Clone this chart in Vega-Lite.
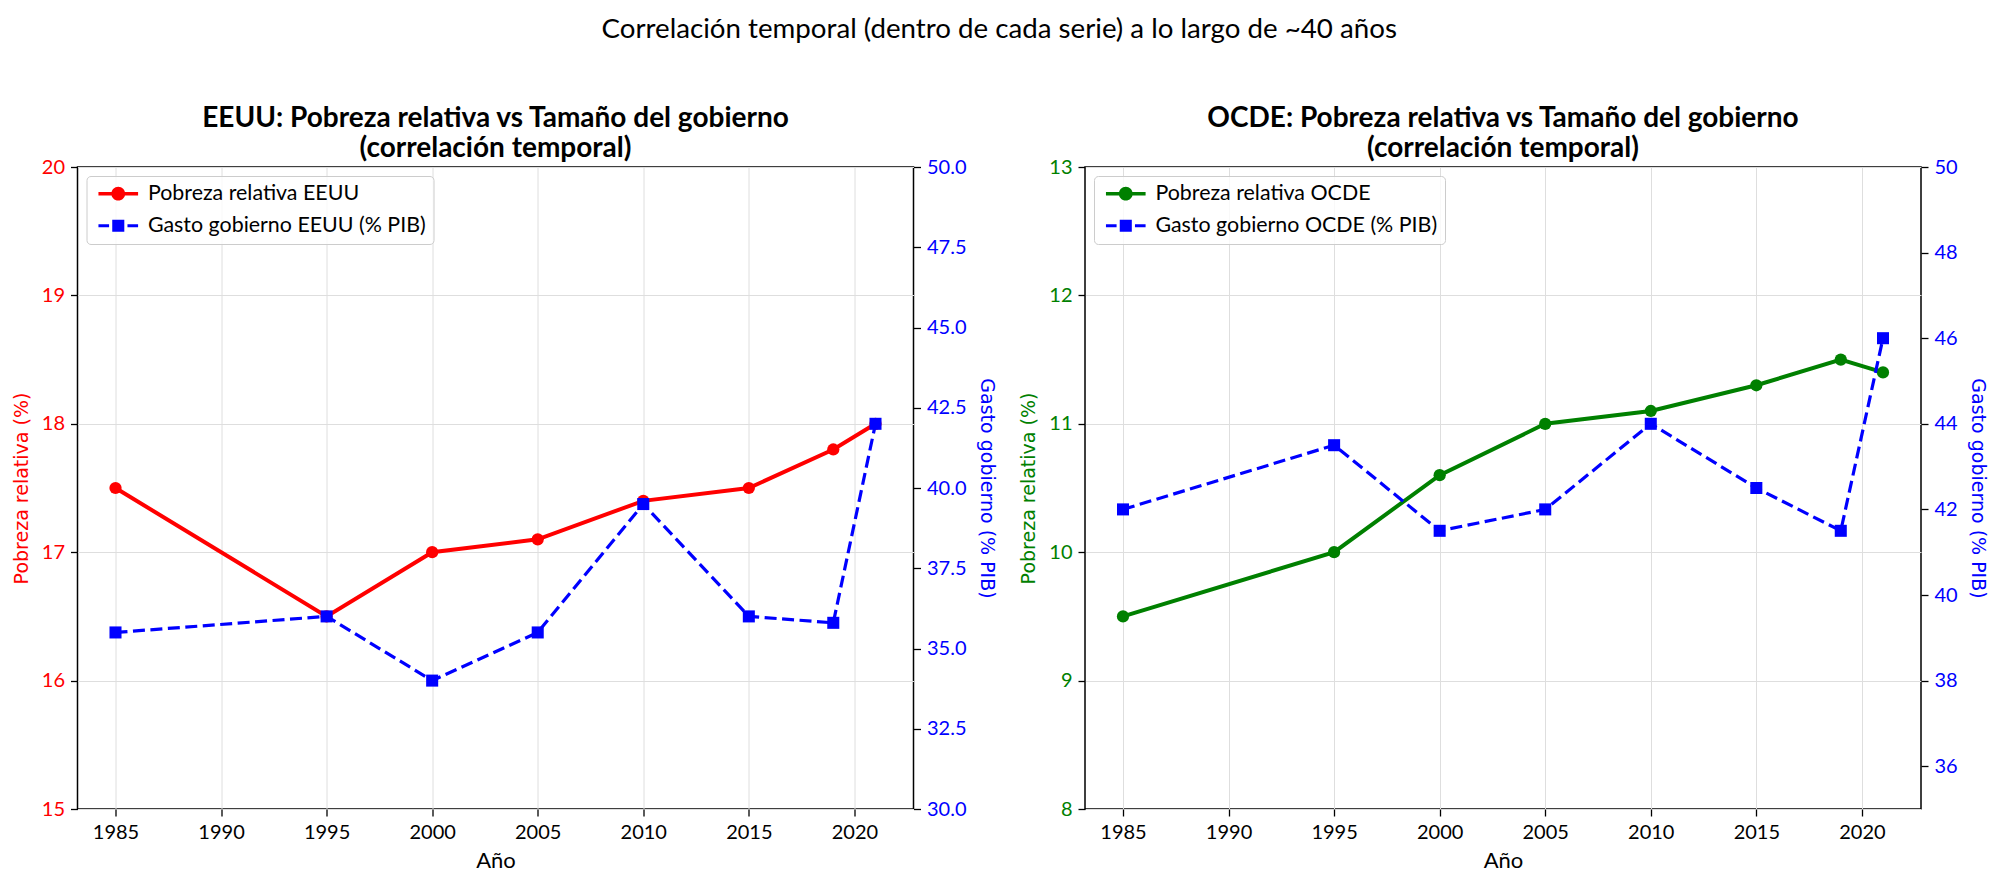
{
  "$schema": "https://vega.github.io/schema/vega-lite/v6.json",
  "description": "Correlación temporal: pobreza relativa vs gasto del gobierno, EEUU y OCDE",
  "padding": {"left": 11.5, "top": 15, "right": 5, "bottom": 5},
  "title": {
    "text": "Correlación temporal (dentro de cada serie) a lo largo de ~40 años",
    "fontSize": 27.7,
    "fontWeight": "normal",
    "anchor": "middle",
    "offset": 61
  },
  "data": {
    "values": [
      {"r": "EEUU", "v": "pob", "serie": "Pobreza relativa EEUU", "anio": 1985, "valor": 17.5},
      {"r": "EEUU", "v": "pob", "serie": "Pobreza relativa EEUU", "anio": 1995, "valor": 16.5},
      {"r": "EEUU", "v": "pob", "serie": "Pobreza relativa EEUU", "anio": 2000, "valor": 17.0},
      {"r": "EEUU", "v": "pob", "serie": "Pobreza relativa EEUU", "anio": 2005, "valor": 17.1},
      {"r": "EEUU", "v": "pob", "serie": "Pobreza relativa EEUU", "anio": 2010, "valor": 17.4},
      {"r": "EEUU", "v": "pob", "serie": "Pobreza relativa EEUU", "anio": 2015, "valor": 17.5},
      {"r": "EEUU", "v": "pob", "serie": "Pobreza relativa EEUU", "anio": 2019, "valor": 17.8},
      {"r": "EEUU", "v": "pob", "serie": "Pobreza relativa EEUU", "anio": 2021, "valor": 18.0},
      {"r": "EEUU", "v": "gasto", "serie": "Gasto gobierno EEUU (% PIB)", "anio": 1985, "valor": 35.5},
      {"r": "EEUU", "v": "gasto", "serie": "Gasto gobierno EEUU (% PIB)", "anio": 1995, "valor": 36.0},
      {"r": "EEUU", "v": "gasto", "serie": "Gasto gobierno EEUU (% PIB)", "anio": 2000, "valor": 34.0},
      {"r": "EEUU", "v": "gasto", "serie": "Gasto gobierno EEUU (% PIB)", "anio": 2005, "valor": 35.5},
      {"r": "EEUU", "v": "gasto", "serie": "Gasto gobierno EEUU (% PIB)", "anio": 2010, "valor": 39.5},
      {"r": "EEUU", "v": "gasto", "serie": "Gasto gobierno EEUU (% PIB)", "anio": 2015, "valor": 36.0},
      {"r": "EEUU", "v": "gasto", "serie": "Gasto gobierno EEUU (% PIB)", "anio": 2019, "valor": 35.8},
      {"r": "EEUU", "v": "gasto", "serie": "Gasto gobierno EEUU (% PIB)", "anio": 2021, "valor": 42.0},
      {"r": "OCDE", "v": "pob", "serie": "Pobreza relativa OCDE", "anio": 1985, "valor": 9.5},
      {"r": "OCDE", "v": "pob", "serie": "Pobreza relativa OCDE", "anio": 1995, "valor": 10.0},
      {"r": "OCDE", "v": "pob", "serie": "Pobreza relativa OCDE", "anio": 2000, "valor": 10.6},
      {"r": "OCDE", "v": "pob", "serie": "Pobreza relativa OCDE", "anio": 2005, "valor": 11.0},
      {"r": "OCDE", "v": "pob", "serie": "Pobreza relativa OCDE", "anio": 2010, "valor": 11.1},
      {"r": "OCDE", "v": "pob", "serie": "Pobreza relativa OCDE", "anio": 2015, "valor": 11.3},
      {"r": "OCDE", "v": "pob", "serie": "Pobreza relativa OCDE", "anio": 2019, "valor": 11.5},
      {"r": "OCDE", "v": "pob", "serie": "Pobreza relativa OCDE", "anio": 2021, "valor": 11.4},
      {"r": "OCDE", "v": "gasto", "serie": "Gasto gobierno OCDE (% PIB)", "anio": 1985, "valor": 42.0},
      {"r": "OCDE", "v": "gasto", "serie": "Gasto gobierno OCDE (% PIB)", "anio": 1995, "valor": 43.5},
      {"r": "OCDE", "v": "gasto", "serie": "Gasto gobierno OCDE (% PIB)", "anio": 2000, "valor": 41.5},
      {"r": "OCDE", "v": "gasto", "serie": "Gasto gobierno OCDE (% PIB)", "anio": 2005, "valor": 42.0},
      {"r": "OCDE", "v": "gasto", "serie": "Gasto gobierno OCDE (% PIB)", "anio": 2010, "valor": 44.0},
      {"r": "OCDE", "v": "gasto", "serie": "Gasto gobierno OCDE (% PIB)", "anio": 2015, "valor": 42.5},
      {"r": "OCDE", "v": "gasto", "serie": "Gasto gobierno OCDE (% PIB)", "anio": 2019, "valor": 41.5},
      {"r": "OCDE", "v": "gasto", "serie": "Gasto gobierno OCDE (% PIB)", "anio": 2021, "valor": 46.0}
    ]
  },
  "spacing": 22.5,
  "hconcat": [
    {
      "width": 836,
      "height": 642,
      "title": {"text": ["EEUU: Pobreza relativa vs Tamaño del gobierno", "(correlación temporal)"]},
      "encoding": {
        "x": {
          "field": "anio", "type": "quantitative",
          "scale": {"domain": [1983.2, 2022.8], "nice": false, "zero": false},
          "axis": {"title": "Año", "values": [1985, 1990, 1995, 2000, 2005, 2010, 2015, 2020], "format": "d", "grid": true}
        }
      },
      "layer": [
        {
          "transform": [{"filter": "datum.r === 'EEUU' && datum.v === 'pob'"}],
          "encoding": {
            "y": {
              "field": "valor", "type": "quantitative",
              "scale": {"domain": [15, 20], "nice": false, "zero": false},
              "axis": {"orient": "left", "title": "Pobreza relativa (%)", "values": [15, 16, 17, 18, 19, 20], "format": "d", "grid": true, "labelColor": "red", "titleColor": "red"}
            }
          },
          "layer": [
            {
              "mark": {"type": "line", "color": "red", "strokeWidth": 4, "point": {"filled": true, "size": 150, "shape": "circle", "color": "red"}}
            },
            {
              "mark": {"type": "point", "filled": true, "opacity": 0, "size": 132},
              "encoding": {
                "color": {
                  "field": "serie", "type": "nominal",
                  "scale": {"domain": ["Pobreza relativa EEUU", "Gasto gobierno EEUU (% PIB)"], "range": ["red", "blue"]},
                  "legend": {"title": null, "orient": "top-left", "offset": 9, "padding": 7, "symbolSize": 132, "symbolOpacity": 1, "symbolStrokeWidth": 0, "labelOffset": 33, "rowPadding": 9, "fillColor": "rgba(255,255,255,0.8)", "strokeColor": "#cccccc", "cornerRadius": 4}
                },
                "shape": {
                  "field": "serie", "type": "nominal",
                  "scale": {"domain": ["Pobreza relativa EEUU", "Gasto gobierno EEUU (% PIB)"], "range": ["M-1,-0.3L5.9,-0.3L5.9,0.3L-1,0.3Z M3.65,0A1.2,1.2,0,1,1,1.25,0A1.2,1.2,0,1,1,3.65,0Z", "M-1,-0.25L0.85,-0.25L0.85,0.25L-1,0.25Z M4.05,-0.25L5.9,-0.25L5.9,0.25L4.05,0.25Z M1.4,-1.05L3.5,-1.05L3.5,1.05L1.4,1.05Z"]},
                  "legend": {"title": null, "orient": "top-left", "offset": 9, "padding": 7, "symbolSize": 132, "symbolOpacity": 1, "symbolStrokeWidth": 0, "labelOffset": 33, "rowPadding": 9, "fillColor": "rgba(255,255,255,0.8)", "strokeColor": "#cccccc", "cornerRadius": 4}
                }
              }
            }
          ]
        },
        {
          "transform": [{"filter": "datum.r === 'EEUU' && datum.v === 'gasto'"}],
          "mark": {"type": "line", "color": "blue", "strokeWidth": 3.2, "strokeDash": [12, 5.5], "point": {"filled": true, "size": 145, "shape": "square", "color": "blue"}},
          "encoding": {
            "y": {
              "field": "valor", "type": "quantitative",
              "scale": {"domain": [30, 50], "nice": false, "zero": false},
              "axis": {"orient": "right", "title": "Gasto gobierno (% PIB)", "values": [30, 32.5, 35, 37.5, 40, 42.5, 45, 47.5, 50], "format": ".1f", "grid": false, "labelColor": "blue", "titleColor": "blue"}
            }
          }
        }
      ],
      "resolve": {"scale": {"y": "independent"}}
    },
    {
      "width": 836,
      "height": 642,
      "title": {"text": ["OCDE: Pobreza relativa vs Tamaño del gobierno", "(correlación temporal)"]},
      "encoding": {
        "x": {
          "field": "anio", "type": "quantitative",
          "scale": {"domain": [1983.2, 2022.8], "nice": false, "zero": false},
          "axis": {"title": "Año", "values": [1985, 1990, 1995, 2000, 2005, 2010, 2015, 2020], "format": "d", "grid": true}
        }
      },
      "layer": [
        {
          "transform": [{"filter": "datum.r === 'OCDE' && datum.v === 'pob'"}],
          "encoding": {
            "y": {
              "field": "valor", "type": "quantitative",
              "scale": {"domain": [8, 13], "nice": false, "zero": false},
              "axis": {"orient": "left", "title": "Pobreza relativa (%)", "values": [8, 9, 10, 11, 12, 13], "format": "d", "grid": true, "labelColor": "green", "titleColor": "green"}
            }
          },
          "layer": [
            {
              "mark": {"type": "line", "color": "green", "strokeWidth": 4, "point": {"filled": true, "size": 150, "shape": "circle", "color": "green"}}
            },
            {
              "mark": {"type": "point", "filled": true, "opacity": 0, "size": 132},
              "encoding": {
                "color": {
                  "field": "serie", "type": "nominal",
                  "scale": {"domain": ["Pobreza relativa OCDE", "Gasto gobierno OCDE (% PIB)"], "range": ["green", "blue"]},
                  "legend": {"title": null, "orient": "top-left", "offset": 9, "padding": 7, "symbolSize": 132, "symbolOpacity": 1, "symbolStrokeWidth": 0, "labelOffset": 33, "rowPadding": 9, "fillColor": "rgba(255,255,255,0.8)", "strokeColor": "#cccccc", "cornerRadius": 4}
                },
                "shape": {
                  "field": "serie", "type": "nominal",
                  "scale": {"domain": ["Pobreza relativa OCDE", "Gasto gobierno OCDE (% PIB)"], "range": ["M-1,-0.3L5.9,-0.3L5.9,0.3L-1,0.3Z M3.65,0A1.2,1.2,0,1,1,1.25,0A1.2,1.2,0,1,1,3.65,0Z", "M-1,-0.25L0.85,-0.25L0.85,0.25L-1,0.25Z M4.05,-0.25L5.9,-0.25L5.9,0.25L4.05,0.25Z M1.4,-1.05L3.5,-1.05L3.5,1.05L1.4,1.05Z"]},
                  "legend": {"title": null, "orient": "top-left", "offset": 9, "padding": 7, "symbolSize": 132, "symbolOpacity": 1, "symbolStrokeWidth": 0, "labelOffset": 33, "rowPadding": 9, "fillColor": "rgba(255,255,255,0.8)", "strokeColor": "#cccccc", "cornerRadius": 4}
                }
              }
            }
          ]
        },
        {
          "transform": [{"filter": "datum.r === 'OCDE' && datum.v === 'gasto'"}],
          "mark": {"type": "line", "color": "blue", "strokeWidth": 3.2, "strokeDash": [12, 5.5], "point": {"filled": true, "size": 145, "shape": "square", "color": "blue"}},
          "encoding": {
            "y": {
              "field": "valor", "type": "quantitative",
              "scale": {"domain": [35, 50], "nice": false, "zero": false},
              "axis": {"orient": "right", "title": "Gasto gobierno (% PIB)", "values": [36, 38, 40, 42, 44, 46, 48, 50], "format": "d", "grid": false, "labelColor": "blue", "titleColor": "blue"}
            }
          }
        }
      ],
      "resolve": {"scale": {"y": "independent"}}
    }
  ],
  "resolve": {"scale": {"color": "independent", "shape": "independent"}, "legend": {"color": "independent", "shape": "independent"}},
  "config": {
    "font": "Lato",
    "view": {"stroke": "black", "strokeWidth": 1.5},
    "axis": {
      "domain": false, "grid": false,
      "tickColor": "black", "tickSize": 7, "tickWidth": 1.3,
      "labelFont": "Lato", "labelFontSize": 20, "labelColor": "black", "labelPadding": 6,
      "labelFlush": false, "labelOverlap": false,
      "titleFont": "DejaVu Sans", "titleFontSize": 19, "titleFontWeight": "normal", "titlePadding": 10,
      "gridColor": "#dedede", "gridWidth": 1
    },
    "axisX": {"titleFont": "Lato", "titleFontSize": 22, "titlePadding": 8},
    "title": {"font": "Lato", "fontSize": 28, "fontWeight": "bold", "color": "black", "lineHeight": 30, "offset": -6, "anchor": "middle"},
    "legend": {"labelFont": "Lato", "labelFontSize": 21.4, "labelColor": "black", "labelLimit": 500}
  }
}
